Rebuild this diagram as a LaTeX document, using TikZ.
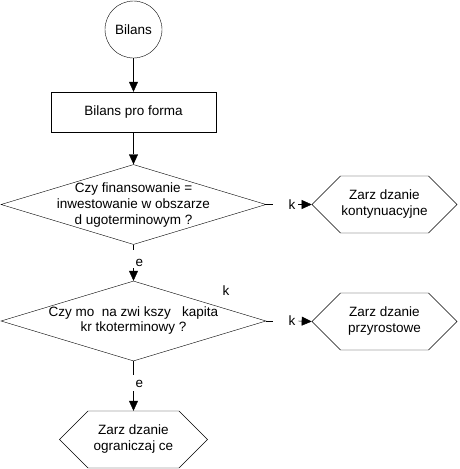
\documentclass[tikz,border=0pt]{standalone}
\usepackage{fontspec}
\setmainfont{Liberation Sans}
\usetikzlibrary{shapes.geometric,shapes.symbols,arrows.meta}

\tikzset{
  box/.style={draw, rectangle, minimum width=165pt, minimum height=40pt, inner sep=0pt},
  decision/.style={draw, diamond, minimum width=265pt, minimum height=80pt, inner sep=0pt},
  hexa/.style={draw, signal, signal to=east and west, signal pointer angle=90,
    minimum width=145pt, minimum height=57pt, inner sep=0pt, align=center},
  gap/.style={inner sep=0pt, outer sep=0pt, minimum width=0pt, minimum height=0pt},
  arr/.style={-{Triangle[length=10pt,width=9pt]}}
}

\begin{document}
\begin{tikzpicture}[x=1pt, y=-1pt, font=\fontsize{13.5}{16}\selectfont]
\useasboundingbox (0,0) rectangle (459,469);

\node [draw, circle, minimum size=57pt, inner sep=0pt] (bilans) at (133.5,29.5) {Bilans};
\node [box] (proforma) at (133.5,112) {Bilans pro forma};

\node [decision, label={[align=center, yshift=-1pt]center:Czy finansowanie =\\inwestowanie w obszarze\\d\ ugoterminowym ?}] (q1) at (133.5,204.5) {};
\node [decision, label={[align=center, font=\fontsize{13.5}{15}\selectfont]center:Czy mo\ \ na zwi\ kszy\ \ \ kapita\\kr\ tkoterminowy ?}] (q2) at (133.5,321) {};

\node [hexa] (h1) at (384.5,204.5) {Zarz\ dzanie\\kontynuacyjne};
\node [hexa] (h2) at (384.5,321.5) {Zarz\ dzanie\\przyrostowe};
\node [hexa, minimum width=148pt] (h3) at (133.5,439.5) {Zarz\ dzanie\\ograniczaj\ ce};

% labels that break the lines
\node [gap, minimum height=18pt, label={[xshift=6pt, yshift=-4pt]center:e}] (e1) at (133.5,259) {};
\node [gap, minimum height=16pt, label={[xshift=6pt, yshift=-1pt]center:e}] (e2) at (133.5,383) {};
\node [gap, minimum width=25pt, label={[xshift=6.5pt]center:k}] (k1) at (285.5,204.5) {};
\node [gap, minimum width=25pt, label={[xshift=6.5pt]center:k}] (k2) at (285.5,321) {};
\node (kx) at (226,291) {k};

\draw [arr] (bilans) -- (proforma);
\draw [arr] (proforma) -- (q1.north);
\draw (q1.south) -- (e1.north);
\draw [arr] (e1.south) -- (q2.north);
\draw (q2.south) -- (e2.north);
\draw [arr] (e2.south) -- (h3.north);
\draw (q1.east) -- (k1.west);
\draw [arr] (k1.east) -- (h1.west);
\draw (q2.east) -- (k2.west);
\draw [arr] (k2.east) -- (h2.west);

\end{tikzpicture}
\end{document}
